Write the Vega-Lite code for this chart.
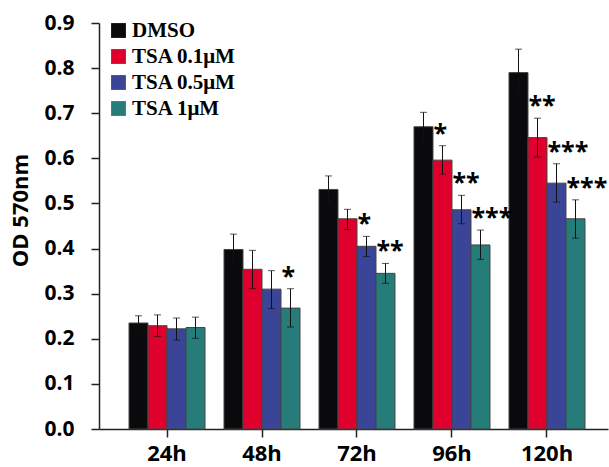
{
  "$schema": "https://vega.github.io/schema/vega-lite/v6.json",
  "autosize": {"type": "none"},
  "padding": {"left": 99, "top": 23, "right": 1, "bottom": 38},
  "width": 509,
  "height": 406,
  "background": "white",
  "config": {"view": {"stroke": null}},
  "data": {
    "values": [
      {"time": "24h", "group": "DMSO", "mean": 0.235, "lo": 0.219, "hi": 0.251, "sig": ""},
      {"time": "24h", "group": "TSA 0.1μM", "mean": 0.229, "lo": 0.205, "hi": 0.253, "sig": ""},
      {"time": "24h", "group": "TSA 0.5μM", "mean": 0.222, "lo": 0.197, "hi": 0.246, "sig": ""},
      {"time": "24h", "group": "TSA 1μM", "mean": 0.225, "lo": 0.201, "hi": 0.248, "sig": ""},
      {"time": "48h", "group": "DMSO", "mean": 0.398, "lo": 0.364, "hi": 0.432, "sig": ""},
      {"time": "48h", "group": "TSA 0.1μM", "mean": 0.354, "lo": 0.311, "hi": 0.396, "sig": ""},
      {"time": "48h", "group": "TSA 0.5μM", "mean": 0.31, "lo": 0.267, "hi": 0.351, "sig": ""},
      {"time": "48h", "group": "TSA 1μM", "mean": 0.268, "lo": 0.226, "hi": 0.311, "sig": "*"},
      {"time": "72h", "group": "DMSO", "mean": 0.531, "lo": 0.501, "hi": 0.561, "sig": ""},
      {"time": "72h", "group": "TSA 0.1μM", "mean": 0.466, "lo": 0.442, "hi": 0.487, "sig": ""},
      {"time": "72h", "group": "TSA 0.5μM", "mean": 0.405, "lo": 0.382, "hi": 0.427, "sig": "*"},
      {"time": "72h", "group": "TSA 1μM", "mean": 0.345, "lo": 0.323, "hi": 0.367, "sig": "**"},
      {"time": "96h", "group": "DMSO", "mean": 0.67, "lo": 0.638, "hi": 0.702, "sig": ""},
      {"time": "96h", "group": "TSA 0.1μM", "mean": 0.596, "lo": 0.565, "hi": 0.628, "sig": "*"},
      {"time": "96h", "group": "TSA 0.5μM", "mean": 0.486, "lo": 0.455, "hi": 0.518, "sig": "**"},
      {"time": "96h", "group": "TSA 1μM", "mean": 0.408, "lo": 0.376, "hi": 0.441, "sig": "***"},
      {"time": "120h", "group": "DMSO", "mean": 0.79, "lo": 0.738, "hi": 0.842, "sig": ""},
      {"time": "120h", "group": "TSA 0.1μM", "mean": 0.646, "lo": 0.603, "hi": 0.689, "sig": "**"},
      {"time": "120h", "group": "TSA 0.5μM", "mean": 0.545, "lo": 0.503, "hi": 0.588, "sig": "***"},
      {"time": "120h", "group": "TSA 1μM", "mean": 0.466, "lo": 0.423, "hi": 0.508, "sig": "***"}
    ]
  },
  "encoding": {
    "x": {
      "field": "time", "type": "nominal",
      "sort": ["24h", "48h", "72h", "96h", "120h"],
      "scale": {"paddingInner": 0.2, "paddingOuter": 0.279, "align": 0.566},
      "axis": {
        "title": null, "labelAngle": 0, "grid": false,
        "tickSize": 8, "tickColor": "#222", "domainColor": "#222", "domainWidth": 1.5, "tickWidth": 1.5,
        "labelFont": "Open Sans", "labelFontWeight": "bold", "labelFontSize": 22, "labelColor": "#000",
        "labelPadding": 6
      }
    },
    "xOffset": {
      "field": "group", "type": "nominal",
      "sort": ["DMSO", "TSA 0.1μM", "TSA 0.5μM", "TSA 1μM"],
      "scale": {"paddingInner": 0, "paddingOuter": 0}
    }
  },
  "layer": [
    {
      "mark": {"type": "bar", "stroke": "#444", "strokeWidth": 1},
      "encoding": {
        "y": {
          "field": "mean", "type": "quantitative",
          "scale": {"domain": [0, 0.9], "nice": false, "zero": true},
          "axis": {
            "title": "OD 570nm", "grid": false,
            "values": [0, 0.1, 0.2, 0.3, 0.4, 0.5, 0.6, 0.7, 0.8, 0.9],
            "format": ".1f",
            "tickSize": 8, "tickColor": "#222", "domainColor": "#222", "domainWidth": 1.5, "tickWidth": 1.5,
            "labelFont": "Open Sans", "labelFontWeight": "bold", "labelFontSize": 21, "labelColor": "#000",
            "labelPadding": 17,
            "titleFont": "Open Sans", "titleFontWeight": "bold", "titleFontSize": 22, "titleColor": "#000",
            "titleX": -79, "titleY": 187, "titleBaseline": "middle", "titleAngle": -90, "titleAlign": "center"
          }
        },
        "color": {
          "field": "group", "type": "nominal",
          "sort": ["DMSO", "TSA 0.1μM", "TSA 0.5μM", "TSA 1μM"],
          "scale": {
            "domain": ["DMSO", "TSA 0.1μM", "TSA 0.5μM", "TSA 1μM"],
            "range": ["#0a0a0c", "#e0002d", "#3b4597", "#257c78"]
          },
          "legend": {
            "title": null, "orient": "none", "legendX": 9, "legendY": -3,
            "symbolType": "square", "symbolSize": 220, "symbolStrokeWidth": 0,
            "labelFont": "Liberation Serif", "labelFontWeight": "bold", "labelFontSize": 21, "labelColor": "#000",
            "labelOffset": 3, "rowPadding": 4, "padding": 0
          }
        }
      }
    },
    {
      "mark": {"type": "rule", "color": "#111", "strokeWidth": 1},
      "encoding": {
        "y": {"field": "lo", "type": "quantitative"},
        "y2": {"field": "hi"}
      }
    },
    {
      "mark": {"type": "tick", "orient": "horizontal", "color": "#111", "thickness": 1, "size": 7},
      "encoding": {"y": {"field": "hi", "type": "quantitative"}}
    },
    {
      "mark": {"type": "tick", "orient": "horizontal", "color": "#111", "thickness": 1, "size": 7},
      "encoding": {"y": {"field": "lo", "type": "quantitative"}}
    },
    {
      "mark": {"type": "text", "align": "left", "baseline": "alphabetic", "dx": -9, "dy": -4, "font": "Open Sans", "fontWeight": "bold", "fontSize": 25, "color": "#000"},
      "encoding": {
        "y": {"field": "hi", "type": "quantitative"},
        "text": {"field": "sig"}
      }
    }
  ]
}
